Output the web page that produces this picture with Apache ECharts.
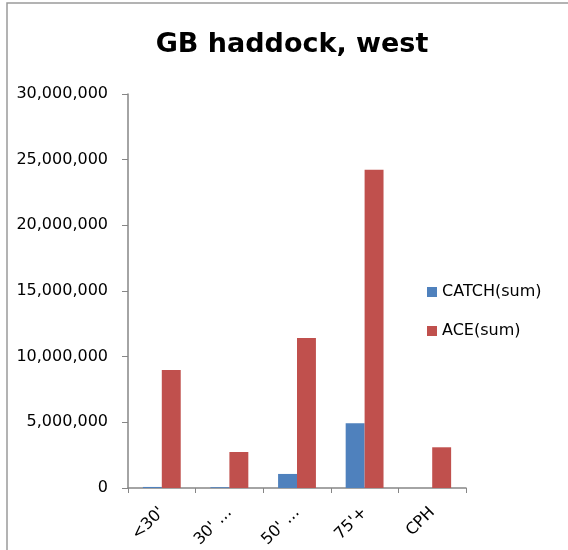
<!DOCTYPE html>
<html>
<head>
<meta charset="utf-8">
<script src="https://cdn.jsdelivr.net/npm/echarts@6/dist/echarts.min.js"></script>
<style>
  html, body { margin: 0; padding: 0; background: #fff; }
  #chart { width: 568px; height: 550px; }
</style>
</head>
<body>
<div id="chart"></div>
<script>
// categories and values
var categories = ["<30'", "30' \u2026", "50' \u2026", "75'+", "CPH"];
var catchSum = [80000, 60000, 1070000, 4930000, 0];
var aceSum = [8980000, 2740000, 11420000, 24230000, 3100000];
var seriesNames = ['CATCH(sum)', 'ACE(sum)'];

var chart = echarts.init(document.getElementById('chart'));
var font = 'DejaVu Sans';
var axisGrey = '#868686';

var option = {
  animation: false,
  backgroundColor: '#fff',
  title: {
    text: 'GB haddock, west',
    left: 287,
    top: 26,
    textAlign: 'center',
    textStyle: { fontFamily: font, fontSize: 27, fontWeight: 'bold', color: '#000' }
  },
  legend: {
    orient: 'vertical',
    left: 427,
    top: 284,
    padding: 0,
    itemWidth: 10,
    itemHeight: 10,
    itemGap: 23,
    icon: 'rect',
    textStyle: { fontFamily: font, fontSize: 16, color: '#000' },
    data: seriesNames
  },
  grid: { left: 128, right: 102, top: 94, bottom: 62, outerBoundsMode: 'none' },
  xAxis: {
    type: 'category',
    data: categories,
    axisLine: { lineStyle: { color: axisGrey, width: 1.5 } },
    axisTick: { show: true, length: 5, lineStyle: { color: axisGrey } },
    axisLabel: { rotate: 45, margin: 22, fontFamily: font, fontSize: 16, color: '#000' }
  },
  yAxis: {
    type: 'value',
    min: 0,
    max: 30000000,
    interval: 5000000,
    splitLine: { show: false },
    axisLine: { show: true, lineStyle: { color: axisGrey, width: 1.5 } },
    axisTick: { show: true, length: 6, lineStyle: { color: axisGrey } },
    axisLabel: {
      margin: 20,
      fontFamily: font,
      fontSize: 16,
      color: '#000',
      formatter: function (v) { return v.toLocaleString('en-US'); }
    }
  },
  series: [
    {
      name: seriesNames[0],
      type: 'bar',
      data: catchSum,
      barGap: '0%',
      barCategoryGap: '44%',
      itemStyle: { color: '#4F81BD' }
    },
    {
      name: seriesNames[1],
      type: 'bar',
      data: aceSum,
      barGap: '0%',
      barCategoryGap: '44%',
      itemStyle: { color: '#C0504D' }
    }
  ],
  graphic: [
    {
      type: 'polyline',
      shape: { points: [[7, 560], [7, 3], [580, 3]] },
      style: { stroke: '#9a9a9a', lineWidth: 1.5, fill: null }
    }
  ]
};

chart.setOption(option);
window.addEventListener('resize', function () { chart.resize(); });
</script>
</body>
</html>
